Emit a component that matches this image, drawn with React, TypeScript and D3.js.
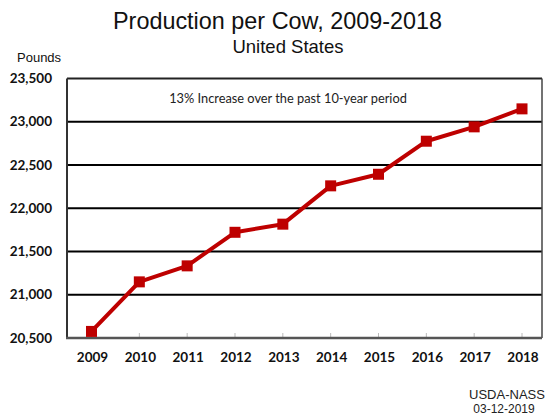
import React from "react";
import * as d3 from "d3";

const years: string[] = ["2009", "2010", "2011", "2012", "2013", "2014", "2015", "2016", "2017", "2018"];
const production: number[] = [20576, 21149, 21334, 21722, 21816, 22259, 22393, 22775, 22941, 23149];
const yTicks: number[] = [20500, 21000, 21500, 22000, 22500, 23000, 23500];

const W = 546;
const H = 417;
const frame = { left: 67, right: 542, top: 78.5, bottom: 338 };

export default function App() {
  const x = d3.scalePoint<string>().domain(years).range([91.5, 522]);
  const y = d3.scaleLinear().domain([20500, 23500]).range([frame.bottom, frame.top]);
  const fmt = d3.format(",");
  const line = d3
    .line<number>()
    .x((_, i) => x(years[i]) as number)
    .y((d) => y(d));
  const ms = 11;
  const red = "#BE0000";

  return (
    <svg
      width={W}
      height={H}
      style={{ position: "absolute", left: 0, top: 0, background: "#fff" }}
    >
      <rect x={0} y={0} width={W} height={H} fill="#fff" />
      <text x={277.5} y={29} textAnchor="middle" fontFamily="Liberation Sans, Arial, sans-serif" fontSize={23.4} fill="#111">
        Production per Cow, 2009-2018
      </text>
      <text x={288} y={53} textAnchor="middle" fontFamily="Liberation Sans, Arial, sans-serif" fontSize={18.5} fill="#111">
        United States
      </text>
      <text x={17} y={62} fontFamily="Liberation Sans, Arial, sans-serif" fontSize={13} fill="#111">
        Pounds
      </text>

      {/* gridlines */}
      {yTicks.slice(1, -1).map((t) => (
        <line key={t} x1={frame.left} x2={frame.right} y1={y(t)} y2={y(t)} stroke="#000" strokeWidth={2} />
      ))}
      {/* frame */}
      <line x1={frame.left} x2={frame.right} y1={frame.top} y2={frame.top} stroke="#222" strokeWidth={2} />
      <line x1={frame.right} x2={frame.right} y1={frame.top} y2={frame.bottom} stroke="#444" strokeWidth={1.5} />
      <line x1={frame.left} x2={frame.left} y1={frame.top} y2={frame.bottom} stroke="#333" strokeWidth={2} />
      {/* x ticks */}
      {years.map((yr) => (
        <line key={yr} x1={x(yr)} x2={x(yr)} y1={frame.bottom} y2={frame.bottom - 5} stroke="#bbb" strokeWidth={1} />
      ))}
      <line x1={frame.left - 1} x2={frame.right} y1={frame.bottom} y2={frame.bottom} stroke="#555" strokeWidth={2.5} />

      {/* y labels */}
      {yTicks.map((t) => (
        <text
          key={t}
          x={52}
          y={y(t) + 4.5}
          textAnchor="end"
          fontFamily="Lato, 'Open Sans', sans-serif"
          fontWeight="bold"
          fontSize={13.5}
          fill="#111"
        >
          {fmt(t)}
        </text>
      ))}
      {/* x labels */}
      {years.map((yr) => (
        <text
          key={yr}
          x={(x(yr) as number) + 1}
          y={362}
          textAnchor="middle"
          fontFamily="Lato, 'Open Sans', sans-serif"
          fontWeight="bold"
          fontSize={13.5}
          fill="#111"
        >
          {yr}
        </text>
      ))}

      <text x={288} y={103} textAnchor="middle" fontFamily="Lato, 'Open Sans', sans-serif" fontSize={12.8} fill="#222">
        13% Increase over the past 10-year period
      </text>

      <path d={line(production) as string} fill="none" stroke={red} strokeWidth={4} strokeLinejoin="round" />
      {production.map((v, i) => (
        <rect
          key={years[i]}
          x={(x(years[i]) as number) - ms / 2}
          y={y(v) - ms / 2}
          width={ms}
          height={ms}
          fill={red}
        />
      ))}

      <text x={507} y={399} textAnchor="middle" fontFamily="Liberation Sans, Arial, sans-serif" fontSize={13} fill="#222">
        USDA-NASS
      </text>
      <text x={504} y={413} textAnchor="middle" fontFamily="Liberation Sans, Arial, sans-serif" fontSize={12} fill="#222">
        03-12-2019
      </text>
    </svg>
  );
}
